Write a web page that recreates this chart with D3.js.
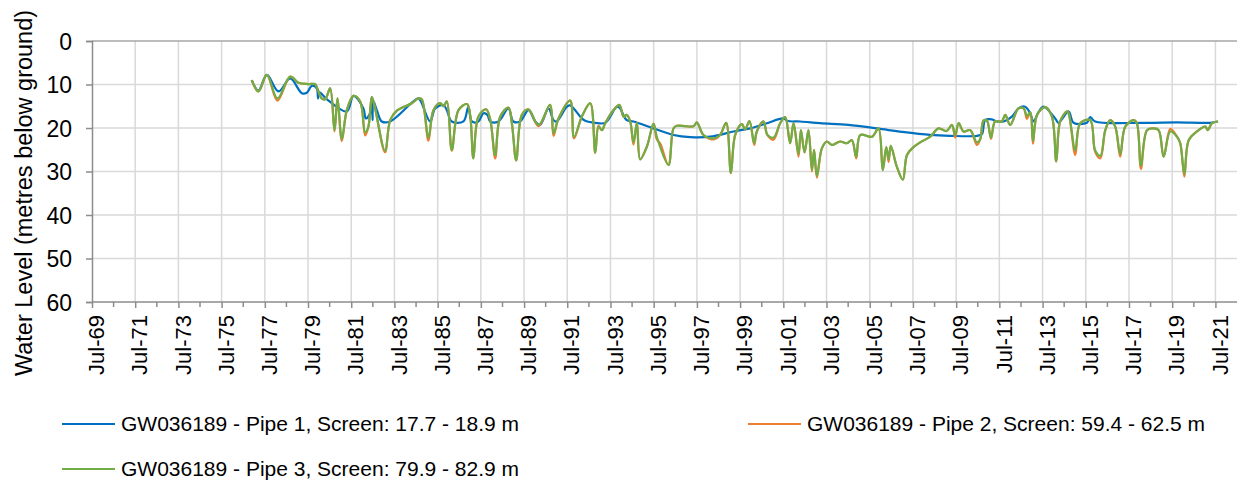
<!DOCTYPE html>
<html lang="en">
<head>
    <meta charset="UTF-8">
    <title>GW036189 Water Level</title>
    <script src="https://d3js.org/d3.v7.min.js"></script>
    <style>
        body { margin: 0; background: #fff; }
        text { font-family: "Liberation Sans", Arial, sans-serif; fill: #000; }
        .grid line { stroke: #d9d9d9; stroke-width: 1.5px; }
        .axis path, .axis line { stroke: #8c8c8c; stroke-width: 1.5px; }
        .series { fill: none; stroke-width: 2.2px; stroke-linejoin: round; }
    </style>
</head>
<body>
    <svg width="1237" height="488"></svg>
    <script>
        // tick labels
        const yTicks = [0, 10, 20, 30, 40, 50, 60];
        const xMajorYears = [1969, 1971, 1973, 1975, 1977, 1979, 1981, 1983, 1985, 1987, 1989, 1991, 1993, 1995,
            1997, 1999, 2001, 2003, 2005, 2007, 2009, 2011, 2013, 2015, 2017, 2019, 2021];
        const xMinorYears = [1970, 1972, 1974, 1976, 1978, 1980, 1982, 1984, 1986, 1988, 1990, 1992, 1994, 1996,
            1998, 2000, 2002, 2004, 2006, 2008, 2010, 2012, 2014, 2016, 2018, 2020, 2022];

        const seriesNames = [
            "GW036189 - Pipe 1, Screen: 17.7 - 18.9 m",
            "GW036189 - Pipe 2, Screen: 59.4 - 62.5 m",
            "GW036189 - Pipe 3, Screen: 79.9 - 82.9 m"
        ];
        const seriesColors = ["#0070c0", "#ed7d31", "#70ad47"];

        // [decimal year, metres below ground]
        const pipe1 = [
            [1976.89, 9.0], [1977.20, 11.4], [1977.59, 7.8], [1978.13, 11.6], [1978.67, 8.6], [1979.21, 12.0],
            [1979.44, 11.9], [1979.67, 10.3], [1979.90, 10.9], [1979.96, 13.2], [1980.02, 11.8], [1980.37, 13.4],
            [1981.29, 16.2], [1981.60, 12.6], [1982.06, 15.5], [1982.17, 17.8], [1982.37, 16.6], [1982.45, 12.9],
            [1982.48, 18.2], [1982.52, 13.8], [1982.68, 15.9], [1982.91, 18.5], [1983.30, 18.5], [1984.37, 13.9],
            [1984.61, 13.2], [1985.15, 18.5], [1985.38, 15.5], [1985.76, 14.7], [1985.92, 15.9], [1986.15, 18.5],
            [1986.69, 18.5], [1986.92, 15.1], [1987.08, 18.5], [1987.38, 18.5], [1987.62, 16.6], [1987.80, 17.0],
            [1987.93, 18.5], [1988.31, 18.5], [1988.77, 15.5], [1989.00, 18.5], [1989.31, 18.5], [1989.70, 15.9],
            [1990.01, 18.5], [1990.24, 19.3], [1990.63, 15.5], [1990.86, 18.2], [1991.00, 18.5], [1991.48, 15.1],
            [1991.63, 14.8], [1992.17, 17.8], [1992.35, 18.4], [1992.79, 18.8], [1993.25, 18.8], [1993.79, 15.1],
            [1993.91, 15.3], [1994.25, 18.2], [1994.56, 18.5], [1995.49, 20.1], [1996.41, 21.6], [1997.19, 22.1],
            [1998.11, 22.0], [1999.19, 20.8], [1999.96, 20.1], [2000.74, 18.9], [2001.50, 17.8], [2001.70, 18.4],
            [2002.28, 18.5], [2003.20, 18.9], [2004.50, 19.3], [2005.83, 20.1], [2007.00, 20.9], [2008.30, 21.6],
            [2009.22, 21.8], [2010.46, 21.8], [2010.69, 21.4], [2010.84, 18.2], [2011.15, 18.0], [2011.38, 18.5],
            [2011.69, 18.5], [2012.08, 17.4], [2012.38, 15.5], [2012.69, 15.1], [2012.92, 16.6], [2013.08, 18.5],
            [2013.30, 16.4], [2013.54, 15.1], [2014.08, 17.8], [2014.24, 18.8], [2014.70, 16.2], [2014.93, 18.8],
            [2015.55, 18.8], [2015.70, 17.5], [2015.93, 18.5], [2018.17, 18.8], [2019.72, 18.7], [2021.26, 18.8],
            [2021.60, 18.5]
        ];
        const pipe2 = [
            [1976.89, 9.0], [1977.20, 11.6], [1977.59, 7.8], [1978.08, 13.7], [1978.67, 8.2], [1979.05, 9.6],
            [1979.51, 9.9], [1979.82, 9.9], [1979.93, 10.9], [1980.13, 13.2], [1980.29, 13.4], [1980.52, 10.9],
            [1980.72, 20.8], [1980.86, 13.2], [1981.06, 23.0], [1981.29, 15.9], [1981.60, 12.6], [1981.91, 13.9],
            [1982.14, 21.7], [1982.29, 19.7], [1982.45, 12.9], [1982.60, 15.5], [1983.06, 25.6], [1983.30, 18.2],
            [1983.61, 16.0], [1984.30, 14.3], [1984.61, 13.2], [1984.76, 13.4], [1985.07, 22.9], [1985.30, 15.9],
            [1985.61, 14.3], [1985.76, 15.0], [1985.92, 13.9], [1986.15, 25.2], [1986.46, 15.9], [1986.85, 14.5],
            [1987.00, 17.0], [1987.15, 27.0], [1987.38, 17.4], [1987.74, 15.7], [1987.93, 18.0], [1988.16, 27.0],
            [1988.39, 17.4], [1988.77, 15.3], [1988.93, 18.9], [1989.13, 27.5], [1989.39, 17.0], [1989.70, 15.7],
            [1990.16, 19.6], [1990.70, 14.7], [1990.86, 21.8], [1991.09, 17.8], [1991.63, 13.7], [1991.81, 22.4],
            [1992.17, 17.4], [1992.56, 14.3], [1992.79, 25.7], [1992.94, 19.5], [1993.10, 20.5], [1993.25, 18.9],
            [1993.63, 15.9], [1993.91, 14.7], [1994.10, 17.4], [1994.25, 17.0], [1994.41, 18.5], [1994.56, 23.8],
            [1994.72, 18.8], [1994.87, 27.2], [1995.18, 24.3], [1995.49, 19.0], [1995.64, 22.6], [1995.80, 23.6],
            [1996.18, 28.5], [1996.41, 20.1], [1996.57, 19.5], [1997.34, 19.6], [1997.49, 18.7], [1997.80, 21.6],
            [1998.26, 22.6], [1998.57, 21.6], [1998.85, 18.8], [1999.07, 30.4], [1999.27, 21.6], [1999.58, 19.1],
            [1999.73, 20.3], [1999.93, 18.4], [2000.15, 23.9], [2000.27, 20.8], [2000.58, 18.5], [2000.76, 21.6],
            [2001.04, 22.7], [2001.35, 18.9], [2001.58, 17.5], [2001.81, 23.5], [2001.97, 18.9], [2002.20, 26.6],
            [2002.31, 20.5], [2002.48, 25.6], [2002.66, 20.5], [2002.82, 30.0], [2002.92, 25.0], [2003.05, 31.4],
            [2003.28, 24.7], [2003.51, 23.1], [2003.74, 23.9], [2004.13, 23.1], [2004.44, 23.5], [2004.67, 22.8],
            [2004.87, 27.0], [2005.06, 21.6], [2005.60, 22.0], [2005.90, 20.1], [2006.10, 29.7], [2006.26, 24.4],
            [2006.37, 27.8], [2006.47, 24.1], [2006.75, 28.9], [2007.03, 31.9], [2007.22, 26.2], [2007.52, 24.4],
            [2007.83, 23.3], [2008.30, 22.0], [2008.68, 20.1], [2009.05, 20.7], [2009.30, 19.3], [2009.45, 22.2],
            [2009.61, 18.9], [2009.84, 20.8], [2010.15, 20.5], [2010.46, 23.9], [2010.61, 22.6], [2010.76, 18.3],
            [2010.92, 18.3], [2011.11, 22.5], [2011.30, 18.5], [2011.61, 18.5], [2011.77, 17.0], [2012.00, 19.3],
            [2012.38, 15.5], [2012.62, 15.5], [2012.77, 17.9], [2012.93, 16.4], [2013.05, 23.6], [2013.24, 17.0],
            [2013.62, 15.2], [2013.93, 17.4], [2014.13, 27.7], [2014.31, 18.5], [2014.62, 16.2], [2014.70, 16.6],
            [2015.01, 26.2], [2015.24, 18.9], [2015.70, 18.2], [2015.93, 25.5], [2016.17, 27.0], [2016.40, 20.5],
            [2016.63, 18.2], [2016.86, 19.7], [2017.09, 26.6], [2017.32, 19.7], [2017.71, 18.2], [2017.86, 18.9],
            [2018.05, 29.4], [2018.33, 20.5], [2018.64, 20.1], [2018.87, 20.5], [2019.10, 26.6], [2019.41, 20.2],
            [2019.72, 22.0], [2019.87, 23.5], [2020.06, 31.2], [2020.26, 22.8], [2020.64, 20.8], [2021.03, 19.7],
            [2021.14, 20.5], [2021.34, 18.9], [2021.62, 18.5]
        ];
        const pipe3 = [
            [1976.89, 9.0], [1977.20, 11.6], [1977.59, 7.8], [1978.08, 13.2], [1978.67, 8.2], [1979.05, 9.6],
            [1979.51, 9.9], [1979.82, 9.9], [1979.93, 10.9], [1980.13, 13.2], [1980.29, 13.4], [1980.52, 10.9],
            [1980.72, 20.5], [1980.86, 13.2], [1981.06, 22.6], [1981.29, 15.9], [1981.60, 12.6], [1981.91, 13.9],
            [1982.14, 21.0], [1982.29, 19.7], [1982.45, 12.9], [1982.60, 15.5], [1983.06, 25.2], [1983.30, 18.2],
            [1983.61, 16.0], [1984.30, 14.3], [1984.61, 13.2], [1984.76, 13.4], [1985.07, 22.2], [1985.30, 15.9],
            [1985.61, 14.3], [1985.76, 15.0], [1985.92, 13.9], [1986.15, 25.1], [1986.46, 15.9], [1986.85, 14.5],
            [1987.00, 17.0], [1987.15, 27.0], [1987.38, 17.4], [1987.74, 15.7], [1987.93, 18.0], [1988.16, 26.2],
            [1988.39, 17.4], [1988.77, 15.3], [1988.93, 18.9], [1989.13, 27.4], [1989.39, 17.0], [1989.70, 15.7],
            [1990.16, 19.3], [1990.70, 14.7], [1990.86, 21.2], [1991.09, 17.8], [1991.63, 13.7], [1991.81, 22.0],
            [1992.17, 17.4], [1992.56, 14.3], [1992.79, 25.7], [1992.94, 19.7], [1993.10, 20.5], [1993.25, 18.9],
            [1993.63, 15.9], [1993.91, 14.7], [1994.10, 17.4], [1994.25, 17.0], [1994.41, 18.5], [1994.56, 23.3],
            [1994.72, 18.8], [1994.87, 27.2], [1995.18, 24.3], [1995.49, 19.0], [1995.64, 22.0], [1996.18, 28.5],
            [1996.41, 20.1], [1996.57, 19.5], [1997.34, 19.6], [1997.49, 18.7], [1997.80, 21.6], [1998.26, 22.4],
            [1998.57, 21.6], [1998.85, 18.8], [1999.07, 30.4], [1999.27, 21.6], [1999.58, 19.1], [1999.73, 20.3],
            [1999.93, 18.4], [2000.15, 23.5], [2000.27, 20.8], [2000.58, 18.5], [2000.76, 21.6], [2001.04, 22.2],
            [2001.35, 18.9], [2001.58, 17.5], [2001.81, 23.5], [2001.97, 18.9], [2002.20, 26.0], [2002.31, 20.5],
            [2002.48, 25.6], [2002.66, 20.5], [2002.82, 29.6], [2002.92, 25.0], [2003.05, 31.0], [2003.28, 24.7],
            [2003.51, 23.1], [2003.74, 23.9], [2004.13, 23.1], [2004.44, 23.5], [2004.67, 22.8], [2004.87, 26.6],
            [2005.06, 21.6], [2005.60, 22.0], [2005.90, 20.1], [2006.10, 29.7], [2006.26, 24.4], [2006.37, 27.2],
            [2006.47, 24.1], [2006.75, 28.9], [2007.03, 31.9], [2007.22, 26.2], [2007.52, 24.4], [2007.83, 23.3],
            [2008.30, 22.0], [2008.68, 20.1], [2009.05, 20.7], [2009.30, 19.3], [2009.45, 21.6], [2009.61, 18.9],
            [2009.84, 20.8], [2010.15, 20.5], [2010.46, 23.3], [2010.61, 22.6], [2010.76, 18.3], [2010.92, 18.3],
            [2011.11, 22.2], [2011.30, 18.5], [2011.61, 18.5], [2011.77, 17.0], [2012.00, 19.3], [2012.38, 15.5],
            [2012.62, 15.5], [2012.77, 17.2], [2012.93, 16.4], [2013.05, 23.0], [2013.24, 17.0], [2013.62, 15.2],
            [2013.93, 17.4], [2014.13, 27.7], [2014.31, 18.5], [2014.62, 16.2], [2014.70, 16.6], [2015.01, 25.1],
            [2015.24, 18.9], [2015.70, 18.2], [2015.93, 25.1], [2016.17, 26.4], [2016.40, 20.5], [2016.63, 18.2],
            [2016.86, 19.7], [2017.09, 26.0], [2017.32, 19.7], [2017.71, 18.2], [2017.86, 18.9], [2018.05, 28.7],
            [2018.33, 20.5], [2018.64, 20.1], [2018.87, 20.5], [2019.10, 26.6], [2019.41, 20.8], [2019.72, 22.0],
            [2019.87, 23.5], [2020.06, 30.6], [2020.26, 22.8], [2020.64, 20.8], [2021.03, 19.7], [2021.14, 20.5],
            [2021.34, 18.9], [2021.62, 18.5]
        ];

        const width = 1237;
        const height = 488;
        const plot = { left: 92, right: 1237, top: 41, bottom: 302 };

        function toDate(t) {
            const y = Math.floor(t);
            const a = new Date(y, 0, 1), b = new Date(y + 1, 0, 1);
            return new Date(+a + (t - y) * (b - a));
        }
        const july = y => new Date(y, 6, 1);

        const svg = d3.select("svg");

        const x = d3.scaleTime()
            .domain([july(1969), july(2022)])
            .range([plot.left, plot.right]);
        const y = d3.scaleLinear()
            .domain([0, 60])
            .range([plot.top, plot.bottom]);

        // gridlines
        const grid = svg.append("g").attr("class", "grid");
        grid.selectAll(".h").data(yTicks.slice(1, -1)).enter().append("line")
            .attr("x1", plot.left).attr("x2", plot.right)
            .attr("y1", d => y(d)).attr("y2", d => y(d));
        grid.selectAll(".v").data(xMajorYears.slice(1)).enter().append("line")
            .attr("x1", d => x(july(d))).attr("x2", d => x(july(d)))
            .attr("y1", plot.top).attr("y2", plot.bottom);

        // top edge
        svg.append("line")
            .attr("x1", plot.left).attr("x2", plot.right)
            .attr("y1", y(0)).attr("y2", y(0))
            .attr("stroke", "#a6a6a6").attr("stroke-width", 1.5);

        // y axis
        const yAxis = svg.append("g").attr("class", "axis")
            .attr("transform", `translate(${plot.left},0)`)
            .call(d3.axisLeft(y).tickValues(yTicks).tickSize(6).tickFormat(d3.format("d")));
        yAxis.selectAll("text")
            .attr("x", -20)
            .style("font-size", "23px")
            .attr("dy", "0.35em");

        // x axis: major + minor ticks
        const xAxis = svg.append("g").attr("class", "axis")
            .attr("transform", `translate(0,${plot.bottom})`)
            .call(d3.axisBottom(x).tickValues(xMajorYears.map(july)).tickSize(6)
                .tickFormat(d3.timeFormat("%b-%y")));
        xAxis.select(".domain").attr("d", `M${plot.left},0H${plot.right}`);
        xAxis.selectAll("text")
            .style("font-size", "22px")
            .attr("text-anchor", "end")
            .attr("y", 0)
            .attr("dy", "0.35em")
            .attr("transform", "translate(4,13) rotate(-90)");
        svg.append("g").attr("class", "axis")
            .selectAll("line").data(xMinorYears.filter(d => x(july(d)) < plot.right)).enter().append("line")
            .attr("x1", d => x(july(d))).attr("x2", d => x(july(d)))
            .attr("y1", plot.bottom).attr("y2", plot.bottom + 5);

        // y title
        svg.append("text")
            .attr("transform", "translate(32,193) rotate(-90)")
            .attr("text-anchor", "middle")
            .style("font-size", "23.5px")
            .text("Water Level (metres below ground)");

        // series
        const line = d3.line()
            .x(d => x(toDate(d[0])))
            .y(d => y(d[1]))
            .curve(d3.curveCatmullRom.alpha(0.5));
        [pipe1, pipe2, pipe3].forEach((s, i) => {
            svg.append("path")
                .attr("class", "series")
                .attr("stroke", seriesColors[i])
                .attr("d", line(s));
        });

        // legend
        const legendPos = [[62, 424], [748, 424], [62, 469]];
        seriesNames.forEach((name, i) => {
            const g = svg.append("g").attr("transform", `translate(${legendPos[i][0]},${legendPos[i][1]})`);
            g.append("line").attr("x1", 0).attr("x2", 53)
                .attr("stroke", seriesColors[i]).attr("stroke-width", 2.2);
            g.append("text").attr("x", 59).attr("dy", "0.35em")
                .style("font-size", "21px")
                .text(name);
        });
    </script>
</body>
</html>
